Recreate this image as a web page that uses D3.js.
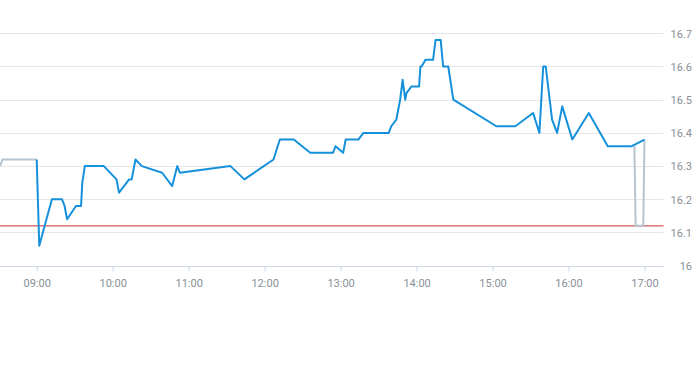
<!DOCTYPE html>
<html>
<head>
<meta charset="utf-8">
<script src="https://cdn.jsdelivr.net/npm/d3@7"></script>
<style>
  html, body { margin: 0; padding: 0; background: #fff; }
  svg { display: block; font-family: Roboto, "Liberation Sans", sans-serif; }
</style>
</head>
<body>
<svg id="chart" width="693" height="365"></svg>
<script>
// ---- data ----
const tradeTimes = ["09:00","09:02","09:12","09:20","09:22","09:24","09:31","09:35","09:36","09:38",
  "09:53","10:03","10:05","10:13","10:15","10:18","10:23","10:39","10:47","10:51",
  "10:53","11:33","11:44","12:07","12:12","12:23","12:36","12:54","12:56","13:02",
  "13:04","13:14","13:18","13:38","13:40","13:44","13:47","13:49","13:51","13:52",
  "13:56","14:02","14:03","14:04","14:07","14:13","14:15","14:19","14:21","14:25",
  "14:29","15:03","15:18","15:32","15:37","15:40","15:42","15:47","15:51","15:55",
  "16:03","16:16","16:31","16:50","17:00"];
const tradeValues = [16.32,16.06,16.20,16.20,16.18,16.14,16.18,16.18,16.25,16.30,
  16.30,16.26,16.22,16.26,16.26,16.32,16.30,16.28,16.24,16.30,
  16.28,16.30,16.26,16.32,16.38,16.38,16.34,16.34,16.36,16.34,
  16.38,16.38,16.40,16.40,16.42,16.44,16.50,16.56,16.50,16.52,
  16.54,16.54,16.60,16.60,16.62,16.62,16.68,16.68,16.60,16.60,
  16.50,16.42,16.42,16.46,16.40,16.60,16.60,16.44,16.40,16.48,
  16.38,16.46,16.36,16.36,16.38];
const preTimes = ["08:31","08:33","09:00"];
const preValues = [16.30,16.32,16.32];
const postTimes = ["16:52","16:53","16:59","17:00"];
const postValues = [16.36,16.12,16.12,16.38];
const prevClose = 16.12;
const xTickLabels = ["09:00","10:00","11:00","12:00","13:00","14:00","15:00","16:00","17:00"];
const yTickValues = [16, 16.1, 16.2, 16.3, 16.4, 16.5, 16.6, 16.7];
const xDomain = ["08:31", "17:15"];
const yDomain = [16, 16.7];

// ---- helpers ----
const parse = d3.timeParse("%H:%M");
const toPoints = (ts, vs) => ts.map((t, i) => ({ t: parse(t), v: vs[i] }));

const svg = d3.select("#chart");
const plot = { left: 0, right: 663.5, top: 33.3, bottom: 265.7 };

const x = d3.scaleTime().domain(xDomain.map(parse)).range([plot.left, plot.right]);
const y = d3.scaleLinear().domain(yDomain).range([plot.bottom, plot.top]);

// grid lines
const grid = svg.append("g").attr("class", "grid");
grid.selectAll("line").data(yTickValues.filter(v => v !== 16)).join("line")
  .attr("x1", plot.left).attr("x2", plot.right)
  .attr("y1", d => Math.round(y(d)) + 0.5).attr("y2", d => Math.round(y(d)) + 0.5)
  .attr("stroke", "#e6e6e6").attr("stroke-width", 1);

// y axis labels (right side)
const yAxis = d3.axisRight(y).tickValues(yTickValues).tickSize(0).tickPadding(0)
  .tickFormat(d => d3.format("")(+d.toFixed(1)));
const yg = svg.append("g").attr("transform", "translate(692,0)").call(yAxis);
yg.select(".domain").remove();
yg.selectAll("text").attr("text-anchor", "end").attr("x", 0).attr("dy", "0.35em")
  .attr("fill", "#878f99").style("font-size", "11px").style("font-family", "Roboto, 'Liberation Sans', sans-serif");

// x axis
const xAxis = d3.axisBottom(x).tickValues(xTickLabels.map(parse))
  .tickFormat(d3.timeFormat("%H:%M")).tickSize(5).tickPadding(8);
const xg = svg.append("g").attr("transform", `translate(0,${Math.round(plot.bottom) + 0.5})`).call(xAxis);
xg.select(".domain").attr("d", `M${plot.left},0H${plot.right}`).attr("stroke", "#ccd6eb");
xg.selectAll(".tick line").attr("stroke", "#ccd6eb");
xg.selectAll("text").attr("fill", "#878f99").style("font-size", "11px")
  .style("font-family", "Roboto, 'Liberation Sans', sans-serif");

// previous close line
svg.append("line")
  .attr("x1", plot.left).attr("x2", plot.right)
  .attr("y1", y(prevClose)).attr("y2", y(prevClose))
  .attr("stroke", "#c9302c").attr("stroke-width", 1);

const line = d3.line().x(d => x(d.t)).y(d => y(d.v));

// gray auction segments
[toPoints(preTimes, preValues), toPoints(postTimes, postValues)].forEach(pts => {
  svg.append("path").datum(pts).attr("d", line)
    .attr("fill", "none").attr("stroke", "#b7c4cf").attr("stroke-width", 2)
    .attr("stroke-linejoin", "round");
});

// main trading line
svg.append("path").datum(toPoints(tradeTimes, tradeValues)).attr("d", line)
  .attr("fill", "none").attr("stroke", "#1591dc").attr("stroke-width", 2)
  .attr("stroke-linejoin", "round");
</script>
</body>
</html>
